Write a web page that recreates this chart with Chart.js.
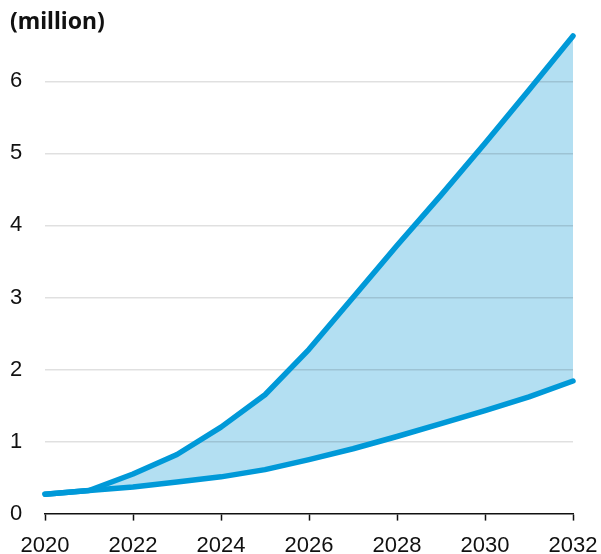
<!DOCTYPE html>
<html>
<head>
<meta charset="utf-8">
<script src="https://cdn.jsdelivr.net/npm/chart.js@4"></script>
<style>
  html, body { margin: 0; padding: 0; background: #fff; }
  #wrap { width: 601px; height: 554px; }
</style>
</head>
<body>
<div id="wrap"><canvas id="chart"></canvas></div>
<script>
const years = [2020, 2021, 2022, 2023, 2024, 2025, 2026, 2027, 2028, 2029, 2030, 2031, 2032];
const upperValues = [0.27, 0.32, 0.55, 0.82, 1.20, 1.65, 2.28, 3.00, 3.72, 4.42, 5.14, 5.88, 6.63];
const lowerValues = [0.27, 0.32, 0.37, 0.44, 0.51, 0.61, 0.75, 0.90, 1.07, 1.25, 1.43, 1.62, 1.84];
const unitLabel = "(million)";

const lineColor = "#0099d8";
const fillColor = "#b3dff2";
const tickFont = { family: "Liberation Sans", size: 22 };

const toPoints = vals => years.map((y, i) => ({ x: y, y: vals[i] }));

new Chart(document.getElementById("chart"), {
    type: "line",
    data: {
        datasets: [
            {
                data: toPoints(upperValues),
                borderColor: lineColor,
                backgroundColor: fillColor,
                borderWidth: 5.5,
                borderCapStyle: "round",
                borderJoinStyle: "round",
                pointRadius: 0,
                tension: 0,
                fill: "+1",
                clip: false
            },
            {
                data: toPoints(lowerValues),
                borderColor: lineColor,
                borderWidth: 5.5,
                borderCapStyle: "round",
                borderJoinStyle: "round",
                pointRadius: 0,
                tension: 0,
                fill: false,
                clip: false
            }
        ]
    },
    options: {
        responsive: true,
        maintainAspectRatio: false,
        animation: false,
        layout: { padding: { left: 10, right: 28, top: 7, bottom: -17 } },
        plugins: {
            legend: { display: false },
            tooltip: { enabled: false },
            // fill under the grid, lines above it
            filler: { drawTime: "beforeDraw" },
            title: {
                display: true,
                text: unitLabel,
                align: "start",
                color: "#111",
                font: { family: "Noto Sans", size: 23, weight: "bold" },
                padding: { top: 2, bottom: 1.5 }
            }
        },
        scales: {
            x: {
                type: "linear",
                min: 2020,
                max: 2032,
                afterFit: s => { s.paddingLeft = 0; s.paddingRight = 0; },
                grid: {
                    drawOnChartArea: false,
                    drawTicks: true,
                    tickLength: 7,
                    tickColor: "#111",
                    tickWidth: 1.5
                },
                border: { display: true, color: "#111", width: 1.5 },
                ticks: {
                    stepSize: 2,
                    color: "#111",
                    padding: 12,
                    maxRotation: 0,
                    font: tickFont,
                    callback: v => String(v)
                }
            },
            y: {
                min: 0,
                max: 6.6,
                afterFit: s => { s.width = 35; s.paddingTop = 0; s.paddingBottom = 0; },
                grid: {
                    color: ctx => ctx.tick.value === 0 ? "rgba(0,0,0,0)" : "rgba(0,0,0,0.12)",
                    lineWidth: 1.5,
                    drawTicks: false
                },
                border: { display: false },
                ticks: {
                    stepSize: 1,
                    includeBounds: false,
                    crossAlign: "far",
                    padding: 1,
                    color: "#111",
                    font: tickFont
                }
            }
        }
    }
});
</script>
</body>
</html>
